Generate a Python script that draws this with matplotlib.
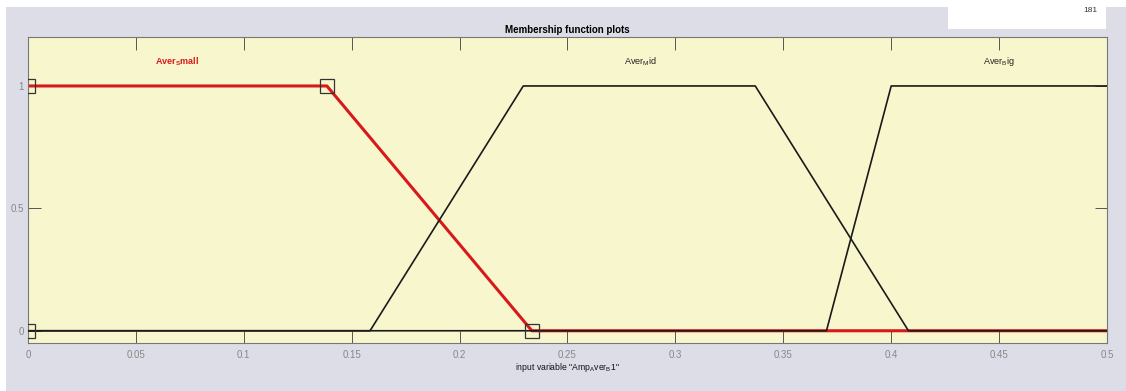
import matplotlib
matplotlib.use("Agg")
import matplotlib.pyplot as plt
from matplotlib.patches import Rectangle

plt.rcParams['font.family'] = ['Liberation Sans', 'DejaVu Sans']
plt.rcParams['mathtext.fontset'] = 'custom'
plt.rcParams['mathtext.rm'] = 'Liberation Sans'
plt.rcParams['mathtext.it'] = 'Liberation Sans'
plt.rcParams['mathtext.bf'] = 'Liberation Sans:bold'

# Membership function breakpoints (x) and degrees (y)
small_x = [0.0, 0.1385, 0.2335, 0.5]
small_y = [1.0, 1.0, 0.0, 0.0]
mid_x = [0.0, 0.1585, 0.2295, 0.337, 0.408, 0.5]
mid_y = [0.0, 0.0, 1.0, 1.0, 0.0, 0.0]
big_x = [0.0, 0.370, 0.400, 0.5]
big_y = [0.0, 0.0, 1.0, 1.0]

# Parameter handles of the selected function
handle_x = [0.0, 0.0, 0.1385, 0.2335]
handle_y = [0.0, 1.0, 1.0, 0.0]

mf_names = [r"Aver$_\mathbf{S}$mall", r"Aver$_\mathrm{M}$id", r"Aver$_\mathrm{B}$ig"]
mf_centers = [0.069, 0.2835, 0.45]

xticks = [0, 0.05, 0.1, 0.15, 0.2, 0.25, 0.3, 0.35, 0.4, 0.45, 0.5]
xtick_labels = ["0", "0.05", "0.1", "0.15", "0.2", "0.25", "0.3", "0.35", "0.4", "0.45", "0.5"]
yticks = [0, 0.5, 1]
ytick_labels = ["0", "0.5", "1"]

W, H = 1126, 391
fig = plt.figure(figsize=(W / 100, H / 100), dpi=100, facecolor="white")

# panel background and the small white box in the corner
fig.patches.append(Rectangle((6 / W, 0), 1 - 6 / W, 1 - 7 / H, transform=fig.transFigure,
                             facecolor="#dcdde7", edgecolor="none", zorder=-10))
fig.patches.append(Rectangle((948 / W, 1 - 29 / H), 158 / W, 29 / H, transform=fig.transFigure,
                             facecolor="white", edgecolor="none", zorder=-5))
fig.text(1097 / W, 1 - 10 / H, "181", fontsize=6, ha="right", va="center", color="#333333")

ax = fig.add_axes([28 / W, 1 - 343 / H, (1107 - 28) / W, (343 - 37) / H])
ax.set_facecolor("#f8f6cd")
ax.set_xlim(0, 0.5)
ax.set_ylim(-0.05, 1.2)

ax.plot(small_x, small_y, color="#d8191c", lw=2.2, zorder=2, solid_joinstyle="round")
ax.plot(mid_x, mid_y, color="#1a1a1a", lw=1.2, zorder=3)
ax.plot(big_x, big_y, color="#1a1a1a", lw=1.2, zorder=3)
ax.plot(handle_x, handle_y, ls="none", marker="s", ms=10, mfc="none", mec="#333333",
        mew=0.9, zorder=4, clip_on=True)

for i, (name, cx) in enumerate(zip(mf_names, mf_centers)):
    if i == 0:
        ax.text(cx, 1.1, name, color="#d8191c", fontsize=6.5, fontweight="bold",
                ha="center", va="center")
    else:
        ax.text(cx, 1.1, name, color="#222222", fontsize=6.5, ha="center", va="center")

ax.set_xticks(xticks)
ax.set_xticklabels(xtick_labels)
ax.set_yticks(yticks)
ax.set_yticklabels(ytick_labels)
ax.tick_params(direction="in", length=9, width=0.7, color="#555555",
               labelsize=7, labelcolor="#888888", top=True, right=True)
ax.tick_params(axis="x", pad=5)
ax.tick_params(axis="y", pad=3)
for s in ax.spines.values():
    s.set_color("#777777")
    s.set_linewidth(0.8)

ax.set_title("Membership function plots", fontsize=7, fontweight="bold", pad=3)
ax.set_xlabel(r'input variable "Amp$_\mathrm{A}$ver$_\mathrm{B}$1"', fontsize=6.2,
              labelpad=1, color="#111111")

fig.savefig("out.png", dpi=100, facecolor=fig.get_facecolor())
